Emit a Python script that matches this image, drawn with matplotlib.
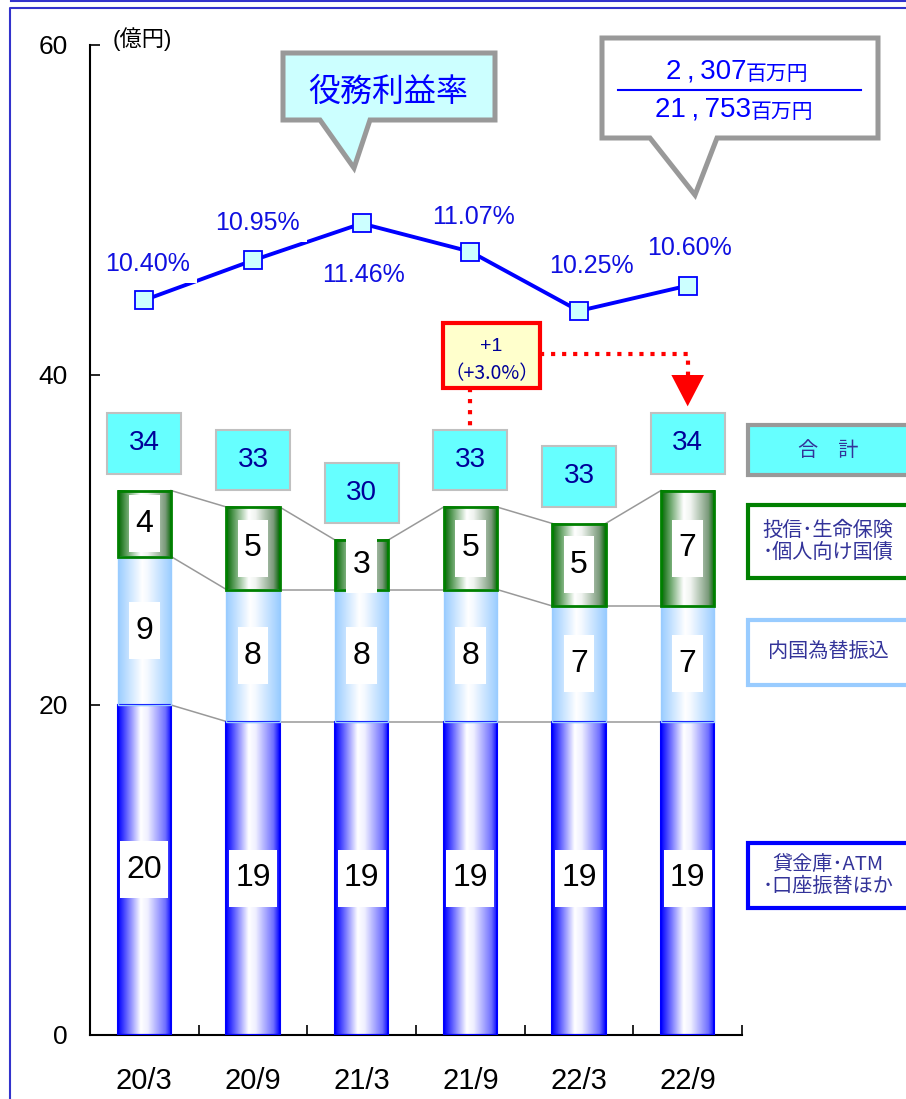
import numpy as np
import matplotlib
matplotlib.use('Agg')
import matplotlib.pyplot as plt
from matplotlib.colors import LinearSegmentedColormap
from matplotlib.patches import Rectangle, Polygon

plt.rcParams['font.family'] = ['Liberation Sans', 'Noto Sans CJK JP', 'DejaVu Sans']

# --- data ---
periods = ['20/3', '20/9', '21/3', '21/9', '22/3', '22/9']
atm_etc = [20, 19, 19, 19, 19, 19]        # 貸金庫・ATM・口座振替ほか
transfers = [9, 8, 8, 8, 7, 7]            # 内国為替振込
invest = [4, 5, 3, 5, 5, 7]               # 投信・生命保険・個人向け国債
totals = [34, 33, 30, 33, 33, 34]         # 合計 (rounded)
fee_rate = [10.40, 10.95, 11.46, 11.07, 10.25, 10.60]  # 役務利益率 (%)

# label offsets for the rate labels (points)
rate_offsets = [(2, 26), (3, 27), (1, -37), (2, 25), (9, 32), (1, 27)]

W, H = 906, 1099
fig = plt.figure(figsize=(W / 100, H / 100), dpi=100)
ax = fig.add_axes([90 / W, 64 / H, 652 / W, 990 / H])

x = np.arange(len(periods))
bw = 0.49
grad = np.linspace(0, 1, 256).reshape(1, -1)

cm_blue = LinearSegmentedColormap.from_list(
    'b', [(0, '#0000ff'), (0.42, '#ffffff'), (0.55, '#f0f0ff'), (0.88, '#7070ff'), (1, '#0000ff')])
cm_light = LinearSegmentedColormap.from_list(
    'l', [(0, '#99ccff'), (0.45, '#ffffff'), (0.55, '#f4f9ff'), (1, '#99ccff')])
cm_green = LinearSegmentedColormap.from_list(
    'g', [(0, '#006600'), (0.42, '#ffffff'), (0.55, '#f0f4f0'), (0.88, '#7a9a7a'), (1, '#006600')])

series = [(atm_etc, cm_blue, '#0000ff', 1.5),
          (transfers, cm_light, '#99ccff', 1.0),
          (invest, cm_green, '#008000', 2.0)]

# width of the white value boxes, in axis units (108.67 px per category)
px = 1 / 108.67

bottoms = np.zeros(len(periods))
levels = []
for vals, cmap, ec, lw in series:
    vals = np.array(vals, dtype=float)
    for i in range(len(periods)):
        y0, y1 = bottoms[i], bottoms[i] + vals[i]
        ax.imshow(grad, extent=(x[i] - bw / 2, x[i] + bw / 2, y0, y1), cmap=cmap,
                  aspect='auto', interpolation='bilinear', zorder=2)
        ax.add_patch(Rectangle((x[i] - bw / 2, y0), bw, vals[i], fill=False,
                               ec=ec, lw=lw, zorder=3))
        s = f'{int(vals[i])}'
        bxw = (17 * len(s) + 14) * px
        yc = (y0 + y1) / 2
        ax.add_patch(Rectangle((x[i] - bxw / 2, yc - 1.72), bxw, 3.45,
                               fc='white', ec='none', zorder=4))
        ax.text(x[i], yc, s, ha='center', va='center', fontsize=23,
                color='black', zorder=5)
    bottoms = bottoms + vals
    levels.append(bottoms.copy())

# gray connectors between bars
for lev in levels:
    for i in range(len(periods) - 1):
        ax.plot([x[i] + bw / 2, x[i + 1] - bw / 2], [lev[i], lev[i + 1]],
                color='#999999', lw=1.1, zorder=1)

# total boxes
for i, t in enumerate(totals):
    cy = bottoms[i] + 2.85
    ax.add_patch(Rectangle((x[i] - 0.34, cy - 1.82), 0.68, 3.64, fc='#66ffff',
                           ec='#c0c0c0', lw=1.5, zorder=4, clip_on=False))
    ax.text(x[i], cy, str(t), ha='center', va='center', fontsize=20,
            color='#000099', zorder=5)

# red annotation: +1 (+3.0%)
ax.add_patch(Rectangle((2.75, 39.2), 0.89, 3.95, fc='#ffffcc', ec='#ff0000',
                       lw=3, zorder=5))
ax.text(3.195, 41.75, '+1', ha='center', va='center', fontsize=14,
        color='#000099', zorder=6)
ax.text(3.195, 40.1, '（+3.0%）', ha='center', va='center', fontsize=14,
        color='#000099', zorder=6, family=['Noto Sans CJK JP'])
ax.plot([3.64, 5.0, 5.0], [41.3, 41.3, 40.0], color='#ff0000', lw=3,
        ls=':', zorder=5)
ax.plot([3.0, 3.0], [39.2, 36.7], color='#ff0000', lw=3, ls=':', zorder=5)
ax.add_patch(Polygon([(4.85, 40.0), (5.15, 40.0), (5.0, 38.1)], closed=True,
                     fc='#ff0000', ec='none', zorder=6))

ax.set_xlim(-0.5, 5.5)
ax.set_ylim(0, 60)
ax.set_yticks([0, 20, 40, 60])
ax.set_xticks(x)
ax.set_xticklabels(periods)
ax.set_xticks(np.arange(0.5, 6, 1), minor=True)
ax.tick_params(axis='y', direction='in', length=7, width=1.2, pad=16, labelsize=19)
ax.tick_params(axis='x', which='major', length=0, pad=23, labelsize=21)
ax.tick_params(axis='x', which='minor', direction='in', length=7, width=1.2)
for s in ['top', 'right']:
    ax.spines[s].set_visible(False)
for s in ['left', 'bottom']:
    ax.spines[s].set_linewidth(1.5)
ax.text(0.034, 1.006, '(億円)', transform=ax.transAxes, ha='left', va='center',
        fontsize=16)

# fee rate line on a hidden twin axis
ax2 = ax.twinx()
ax2.set_ylim(0.23, 13.93)
ax2.axis('off')
ax2.plot(x, fee_rate, color='#0000ff', lw=2.8, zorder=2)
ax2.plot(x, fee_rate, ls='none', marker='s', ms=13.5, mfc='#ccffff',
         mec='#0000ff', mew=1.3, zorder=5)
for i, r in enumerate(fee_rate):
    ax2.annotate(f'{r:.2f}%', (x[i], r), xytext=rate_offsets[i],
                 textcoords='offset points', ha='center', va='center',
                 fontsize=18, color='#1010e0', zorder=4,
                 bbox=dict(boxstyle='square,pad=0.3', fc='white', ec='none'))

# overlay in pixel coordinates for callouts, legend boxes and frame
ov = fig.add_axes([0, 0, 1, 1])
ov.set_xlim(0, W)
ov.set_ylim(H, 0)
ov.axis('off')
ov.patch.set_visible(False)

ov.plot([11, W], [1, 1], color='#3333cc', lw=1.5, clip_on=False)
ov.plot([10, 10, W], [H, 8, 8], color='#3333cc', lw=1.5, clip_on=False)

ov.add_patch(Polygon([(283, 53), (495, 53), (495, 120), (370, 120), (354, 168),
                      (320, 120), (283, 120)], closed=True, fc='#ccffff',
                     ec='#999999', lw=3.6, joinstyle='miter'))
ov.text(388, 93, '役務利益率', ha='center', va='center', fontsize=23,
        color='#0000ff')

ov.add_patch(Polygon([(602, 38), (878, 38), (878, 138), (717, 138), (695, 195),
                      (650, 138), (602, 138)], closed=True, fc='white',
                     ec='#999999', lw=3.6, joinstyle='miter'))
ov.plot([618, 861], [90, 90], color='#0000ff', lw=1.5)
ov.text(746, 72, '2\u2009,\u2009307', ha='right', va='center', fontsize=20,
        color='#0000ff')
ov.text(746, 75, '百万円', ha='left', va='center', fontsize=15, color='#0000ff')
ov.text(751, 110, '21\u2009,\u2009753', ha='right', va='center', fontsize=20,
        color='#0000ff')
ov.text(751, 113, '百万円', ha='left', va='center', fontsize=15, color='#0000ff')

legend_boxes = [
    ((748, 425, 170, 50), '#66ffff', '#999999', '合　計'),
    ((748, 505, 170, 73), 'white', '#008000', '投信･生命保険\n･個人向け国債'),
    ((748, 620, 170, 65), 'white', '#99ccff', '内国為替振込'),
    ((748, 843, 170, 65), 'white', '#0000ff', '貸金庫･ATM\n･口座振替ほか'),
]
for (bx, by, bwid, bh), fc, ec, label in legend_boxes:
    ov.add_patch(Rectangle((bx, by), bwid, bh, fc=fc, ec=ec, lw=3, clip_on=True))
    ov.text(828, by + bh / 2, label, ha='center', va='center', fontsize=14.5,
            color='#333399', linespacing=1.1, multialignment='center',
            family=['Noto Sans CJK JP'])

fig.savefig('out.png', dpi=100)
